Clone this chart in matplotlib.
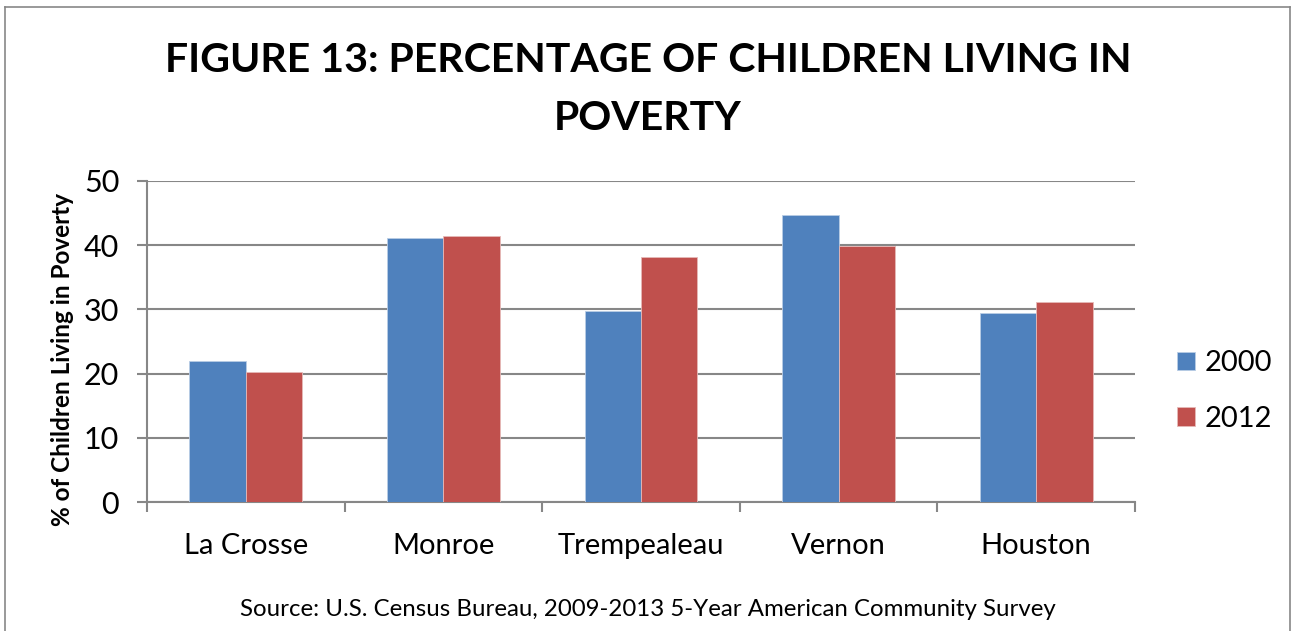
import numpy as np
import matplotlib
matplotlib.use("Agg")
import matplotlib.pyplot as plt
from matplotlib.lines import Line2D

plt.rcParams["font.family"] = ["Lato", "DejaVu Sans"]

counties = ["La Crosse", "Monroe", "Trempealeau", "Vernon", "Houston"]
years = ["2000", "2012"]
pct_2000 = [22.0, 41.1, 29.8, 44.7, 29.4]
pct_2012 = [20.2, 41.4, 38.1, 39.8, 31.2]
colors = ["#4f81bd", "#c0504d"]

fig = plt.figure(figsize=(12.96, 6.31), dpi=100)
ax = fig.add_axes([147 / 1296, 1 - 502 / 631, 988 / 1296, 321 / 631])

x = np.arange(len(counties))
w = 0.285
b1 = ax.bar(x - w / 2, pct_2000, w, color=colors[0], edgecolor="#b9cde5", linewidth=0.6, zorder=3, label=years[0])
b2 = ax.bar(x + w / 2, pct_2012, w, color=colors[1], edgecolor="#e6b9b8", linewidth=0.6, zorder=3, label=years[1])

grid_c = "#878787"
ax.set_ylim(0, 50)
ax.set_xlim(-0.5, len(counties) - 0.5)
ax.set_yticks(range(0, 51, 10))
ax.yaxis.grid(True, color=grid_c, linewidth=1.5, zorder=0)
ax.set_axisbelow(True)

ax.set_xticks(np.arange(len(counties) + 1) - 0.5)
ax.set_xticklabels([])
ax.set_xticks(x, minor=True)
ax.set_xticklabels(counties, minor=True)
ax.tick_params(axis="x", which="major", length=7, width=1.5, color=grid_c, direction="out")
ax.tick_params(axis="x", which="minor", length=0, pad=22, labelsize=21)
ax.tick_params(axis="y", length=7, width=1.5, color=grid_c, direction="out", labelsize=22, pad=13)

for s in ["top", "right"]:
    ax.spines[s].set_visible(False)
for s in ["left", "bottom"]:
    ax.spines[s].set_color(grid_c)
    ax.spines[s].set_linewidth(1.5)

ax.set_ylabel("% of Children Living in Poverty", fontsize=17.5, fontweight="bold")
ax.yaxis.set_label_coords(-0.074, 0.445)

fig.text(0.5, 1 - 60 / 631, "FIGURE 13: PERCENTAGE OF CHILDREN LIVING IN",
         ha="center", va="center", fontsize=29.5, fontweight="bold")
fig.text(0.5, 1 - 118 / 631, "POVERTY", ha="center", va="center", fontsize=29.5, fontweight="bold")

fig.text(0.5, 1 - 609 / 631, "Source: U.S. Census Bureau, 2009-2013 5-Year American Community Survey",
         ha="center", va="center", fontsize=17.3)

fig.legend(handles=[b1, b2], loc="center left", bbox_to_anchor=(1177 / 1296, 1 - 391 / 631),
           frameon=False, fontsize=21, handlelength=0.6, handleheight=0.6, handletextpad=0.35,
           labelspacing=1.0, borderpad=0, borderaxespad=0)

# outer chart border
fig.add_artist(Line2D([5 / 1296, 5 / 1296], [0, 1 - 7 / 631], color="#878787", linewidth=1.2))
fig.add_artist(Line2D([5 / 1296, 1290 / 1296], [1 - 7 / 631, 1 - 7 / 631], color="#878787", linewidth=1.2))
fig.add_artist(Line2D([1290 / 1296, 1290 / 1296], [0, 1 - 7 / 631], color="#878787", linewidth=1.2))

fig.savefig("out.png", dpi=100)
